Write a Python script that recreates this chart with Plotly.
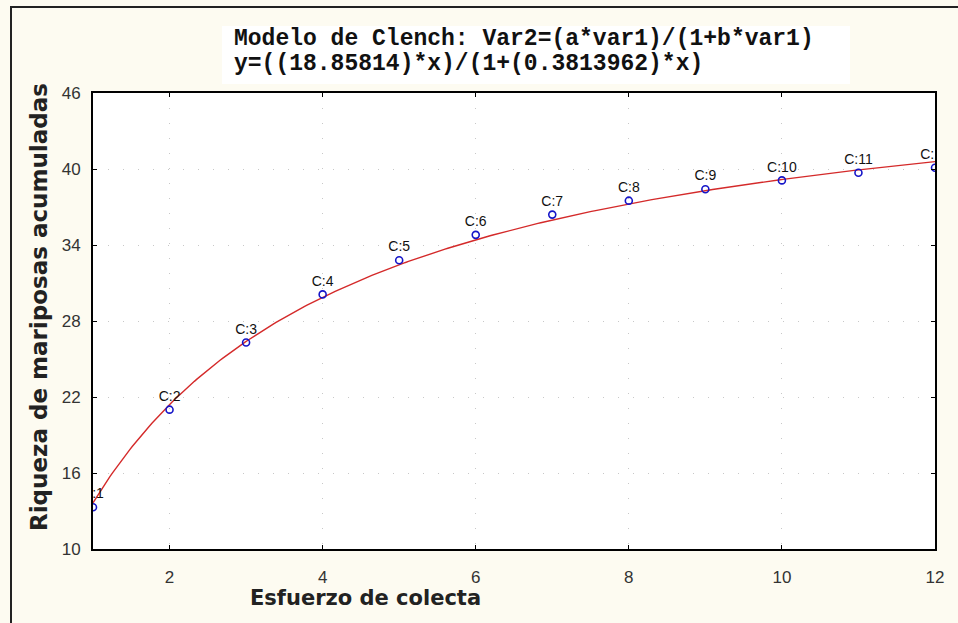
import numpy as np
import plotly.graph_objects as go

# Observed data (esfuerzo de colecta vs riqueza acumulada)
esfuerzo = [1, 2, 3, 4, 5, 6, 7, 8, 9, 10, 11, 12]
riqueza = [13.3, 21.0, 26.3, 30.1, 32.8, 34.8, 36.4, 37.5, 38.4, 39.1, 39.7, 40.1]
etiquetas = ["C:1", "C:2", "C:3", "C:4", "C:5", "C:6", "C:7", "C:8", "C:9", "C:10", "C:11", "C:12"]

# Clench model coefficients (from the title)
a_coef = 18.85814
b_coef = 0.3813962

x_ticks = [2, 4, 6, 8, 10, 12]
y_ticks = [10, 16, 22, 28, 34, 40, 46]

title_line1 = "Modelo de Clench: Var2=(a*var1)/(1+b*var1)"
title_line2 = "y=((18.85814)*x)/(1+(0.3813962)*x)"
x_title = "Esfuerzo de colecta"
y_title = "Riqueza de mariposas acumuladas"

xs = np.linspace(1, 12, 300)
ys = a_coef * xs / (1 + b_coef * xs)

W, H = 958, 623
L, R, T, B = 93, 23, 93, 74
PW, PH = W - L - R, H - T - B


def px(p):
    return (p - L) / PW


def py(p):
    return (H - B - p) / PH


fig = go.Figure()
fig.add_trace(go.Scatter(
    x=xs, y=ys, mode="lines",
    line=dict(color="#D42A2A", width=1.4),
    hoverinfo="skip", showlegend=False,
))
fig.add_trace(go.Scatter(
    x=esfuerzo, y=riqueza, mode="markers+text",
    text=etiquetas, textposition="top center",
    textfont=dict(family="Arial, Liberation Sans", size=14, color="#111111"),
    marker=dict(symbol="circle-open", size=7, color="#1515C8", line=dict(width=1.6)),
    cliponaxis=True, showlegend=False,
))

grid_common = dict(gridcolor="#c8c8c8", griddash="1px,14px", gridwidth=1)

fig.update_xaxes(
    range=[1, 12], tickvals=x_ticks, ticks="inside", ticklen=4, tickcolor="#000",
    showline=True, linecolor="#000", linewidth=2, mirror="ticks",
    tickfont=dict(family="Arial, Liberation Sans", size=17, color="#333333"),
    ticklabelstandoff=12, zeroline=False, showgrid=True, **grid_common,
)
fig.update_yaxes(
    range=[10, 46], tickvals=y_ticks, ticks="inside", ticklen=4, tickcolor="#000",
    showline=True, linecolor="#000", linewidth=2, mirror="ticks",
    tickfont=dict(family="Arial, Liberation Sans", size=17, color="#333333"),
    ticklabelstandoff=7, zeroline=False, showgrid=True, **grid_common,
)

fig.update_layout(
    width=W, height=H,
    margin=dict(l=L, r=R, t=T, b=B, pad=0),
    paper_bgcolor="#FDFBF1", plot_bgcolor="#FFFFFF",
    showlegend=False,
)

# title box
fig.add_shape(type="rect", xref="paper", yref="paper",
              x0=px(222), x1=px(850), y0=py(84), y1=py(26),
              fillcolor="#FFFFFF", line=dict(width=0), layer="below")
# outer frame
fig.add_shape(type="rect", xref="paper", yref="paper",
              x0=px(11), x1=px(980), y0=py(650), y1=py(7),
              line=dict(color="#222222", width=2), fillcolor="rgba(0,0,0,0)")

fig.add_annotation(text="<b>" + title_line1 + "</b>", xref="paper", yref="paper",
                   x=px(232), y=py(39), xanchor="left", yanchor="middle", showarrow=False,
                   font=dict(family="Liberation Mono", size=23, color="#111111"))
fig.add_annotation(text="<b>" + title_line2 + "</b>", xref="paper", yref="paper",
                   x=px(232), y=py(64), xanchor="left", yanchor="middle", showarrow=False,
                   font=dict(family="Liberation Mono", size=23, color="#111111"))
fig.add_annotation(text="<b>" + x_title + "</b>", xref="paper", yref="paper",
                   x=px(365), y=py(598), xanchor="center", yanchor="middle", showarrow=False,
                   font=dict(family="DejaVu Sans", size=21, color="#222222"))
fig.add_annotation(text="<b>" + y_title + "</b>", xref="paper", yref="paper",
                   x=px(39), y=py(307), xanchor="center", yanchor="middle", showarrow=False,
                   textangle=-90,
                   font=dict(family="DejaVu Sans", size=23, color="#222222"))

fig.write_html("out.html", config={"displayModeBar": False},
               post_script="document.body.style.margin='0';")
